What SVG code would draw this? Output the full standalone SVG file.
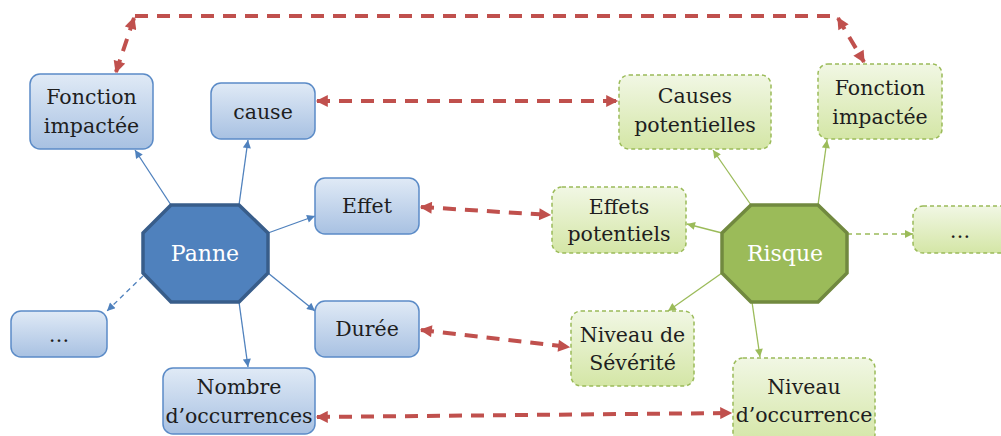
<svg xmlns="http://www.w3.org/2000/svg" width="1001" height="436" viewBox="0 0 1001 436">
<style>
  .t { font-family: "DejaVu Serif", "Liberation Serif", serif; font-size: 20.5px; fill: #1e1e1e; text-anchor: middle; }
  .w { fill: #ffffff; font-size: 22px; }
  .bb { fill: url(#gb); stroke: #5b8bc7; stroke-width: 1.5; }
  .gbx { fill: url(#gg); stroke: #9bbb59; stroke-width: 1.5; stroke-dasharray: 4 3; }
  .bl { stroke: #4f81bd; stroke-width: 1.3; fill: none; marker-end: url(#ab); }
  .gl { stroke: #9bbb59; stroke-width: 1.3; fill: none; marker-end: url(#ag); }
  .dsh { stroke-dasharray: 5 4; }
  .rd { stroke: #c0504d; stroke-width: 4; fill: none; stroke-dasharray: 13 9; }
  .rdm { marker-start: url(#ar); marker-end: url(#ar); }
</style>
<defs>
  <linearGradient id="gb" x1="0" y1="0" x2="0" y2="1">
    <stop offset="0" stop-color="#e0eaf6"/>
    <stop offset="1" stop-color="#a8c1e2"/>
  </linearGradient>
  <linearGradient id="gg" x1="0" y1="0" x2="0" y2="1">
    <stop offset="0" stop-color="#f1f7e4"/>
    <stop offset="1" stop-color="#d4e6a6"/>
  </linearGradient>
  <marker id="ab" viewBox="0 0 10 10" refX="10" refY="5" markerUnits="userSpaceOnUse" markerWidth="10" markerHeight="8" orient="auto">
    <path d="M0,0 L10,5 L0,10 z" fill="#4f81bd"/>
  </marker>
  <marker id="ag" viewBox="0 0 10 10" refX="10" refY="5" markerUnits="userSpaceOnUse" markerWidth="10" markerHeight="8" orient="auto">
    <path d="M0,0 L10,5 L0,10 z" fill="#9bbb59"/>
  </marker>
  <marker id="ar" viewBox="0 0 10 10" refX="9" refY="5" markerUnits="userSpaceOnUse" markerWidth="13" markerHeight="12" orient="auto-start-reverse">
    <path d="M0,0 L10,5 L0,10 z" fill="#c0504d"/>
  </marker>
</defs>

<g id="connectors">
  <!-- Panne -->
  <line class="bl" x1="171" y1="205" x2="135" y2="150"/>
  <line class="bl" x1="239" y1="205" x2="248" y2="140"/>
  <line class="bl" x1="268" y1="233" x2="315" y2="216"/>
  <line class="bl" x1="268" y1="273" x2="315" y2="311"/>
  <line class="bl" x1="239" y1="302" x2="248" y2="367"/>
  <line class="bl dsh" x1="143" y1="276" x2="107" y2="311"/>
  <!-- Risque -->
  <line class="gl" x1="751" y1="205" x2="713" y2="150"/>
  <line class="gl" x1="818" y1="205" x2="827" y2="140"/>
  <line class="gl" x1="722" y1="233" x2="687" y2="224"/>
  <line class="gl dsh" x1="847" y1="234" x2="913" y2="234"/>
  <line class="gl" x1="722" y1="273" x2="668" y2="311"/>
  <line class="gl" x1="752" y1="302" x2="760" y2="357"/>
  <!-- red links -->
  <line class="rd rdm" x1="116" y1="72" x2="134" y2="18"/>
  <line class="rd" x1="135" y1="16" x2="837" y2="16"/>
  <line class="rd rdm" x1="838" y1="18" x2="864" y2="62"/>
  <line class="rd rdm" x1="317" y1="101" x2="617" y2="101"/>
  <line class="rd rdm" x1="421" y1="207" x2="550" y2="215"/>
  <line class="rd rdm" x1="421" y1="330" x2="569" y2="347"/>
  <line class="rd rdm" x1="317" y1="417" x2="731" y2="413"/>
</g>

<g id="panne">
  <polygon points="171,205 239,205 268,233 268,273 239,302 171,302 143,273 143,233" fill="#4f81bd" stroke="#385d8a" stroke-width="3.5"/>
  <text class="t w" x="205" y="261">Panne</text>
</g>
<g id="fonction-panne">
  <rect class="bb" x="30" y="74" width="123" height="75" rx="10"/>
  <text class="t" x="91.5" y="104">Fonction</text>
  <text class="t" x="91.5" y="133">impactée</text>
</g>
<g id="cause">
  <rect class="bb" x="211" y="83" width="104" height="56" rx="10"/>
  <text class="t" x="263" y="119">cause</text>
</g>
<g id="effet">
  <rect class="bb" x="315" y="178" width="104" height="56" rx="10"/>
  <text class="t" x="367" y="213">Effet</text>
</g>
<g id="duree">
  <rect class="bb" x="315" y="301" width="104" height="56" rx="10"/>
  <text class="t" x="367" y="336">Durée</text>
</g>
<g id="nombre">
  <rect class="bb" x="163" y="368" width="152" height="66" rx="10"/>
  <text class="t" x="239" y="394">Nombre</text>
  <text class="t" x="239" y="423">d’occurrences</text>
</g>
<g id="autre-panne">
  <rect class="bb" x="11" y="311" width="96" height="46" rx="10"/>
  <text class="t" x="59" y="342">…</text>
</g>

<g id="risque">
  <polygon points="751,205 818,205 847,233 847,273 818,302 751,302 722,273 722,233" fill="#9bbb59" stroke="#71893f" stroke-width="3.5"/>
  <text class="t w" x="785" y="261">Risque</text>
</g>
<g id="causes-pot">
  <rect class="gbx" x="619" y="75" width="152" height="74" rx="10"/>
  <text class="t" x="695" y="103">Causes</text>
  <text class="t" x="695" y="132">potentielles</text>
</g>
<g id="fonction-risque">
  <rect class="gbx" x="818" y="64" width="124" height="75" rx="10"/>
  <text class="t" x="880" y="95">Fonction</text>
  <text class="t" x="880" y="124">impactée</text>
</g>
<g id="effets-pot">
  <rect class="gbx" x="552" y="187" width="134" height="66" rx="10"/>
  <text class="t" x="619" y="214">Effets</text>
  <text class="t" x="619" y="241">potentiels</text>
</g>
<g id="autre-risque">
  <rect class="gbx" x="913" y="206" width="100" height="47" rx="10"/>
  <text class="t" x="960" y="238">…</text>
</g>
<g id="severite">
  <rect class="gbx" x="571" y="311" width="123" height="75" rx="10"/>
  <text class="t" x="632.5" y="342">Niveau de</text>
  <text class="t" x="632.5" y="370">Sévérité</text>
</g>
<g id="occurrence">
  <rect class="gbx" x="733" y="358" width="142" height="86" rx="10"/>
  <text class="t" x="804" y="394">Niveau</text>
  <text class="t" x="804" y="422">d’occurrence</text>
</g>
</svg>
